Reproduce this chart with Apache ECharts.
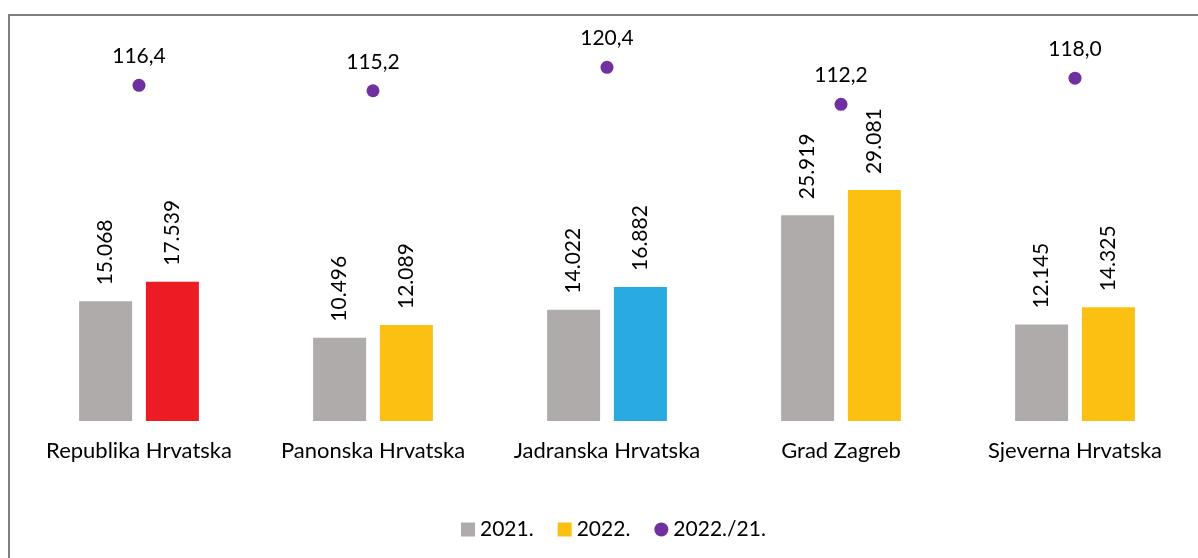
<!DOCTYPE html>
<html lang="hr">
<head>
    <meta charset="UTF-8">
    <title>Regije 2021./2022.</title>
    <style>
        html, body { margin: 0; padding: 0; background: #fff; }
        #frame {
            position: absolute; left: 8px; top: 14px;
            width: 1300px; height: 700px;
            border-left: 2px solid #7f7f7f; border-top: 2px solid #7f7f7f;
        }
        #chart { position: absolute; left: 0; top: 0; width: 1198px; height: 558px; }
    </style>
    <script src="https://cdn.jsdelivr.net/npm/echarts@6/dist/echarts.min.js"></script>
</head>
<body>
<div id="frame"></div>
<div id="chart"></div>
<script>
    // podaci
    var regije = ['Republika Hrvatska', 'Panonska Hrvatska', 'Jadranska Hrvatska', 'Grad Zagreb', 'Sjeverna Hrvatska'];
    var god2021 = [15068, 10496, 14022, 25919, 12145];
    var god2022 = [17539, 12089, 16882, 29081, 14325];
    var indeks = [116.4, 115.2, 120.4, 112.2, 118.0];
    var boje2022 = ['#ED1C24', '#FCC013', '#29ABE2', '#FCC013', '#FCC013'];

    var font = 'Lato';
    function tisuce(v) {
        return String(v).replace(/\B(?=(\d{3})+(?!\d))/g, '.');
    }

    var chart = echarts.init(document.getElementById('chart'));
    var option = {
        animation: false,
        textStyle: { fontFamily: font },
        grid: { left: 22, right: 6, top: 24, bottom: 137 },
        legend: {
            bottom: 13,
            left: 456,
            itemWidth: 14,
            itemHeight: 14,
            itemGap: 24,
            textStyle: { fontSize: 21, color: '#000', fontFamily: font },
            data: [
                { name: '2021.', icon: 'rect' },
                { name: '2022.', icon: 'rect' },
                { name: '2022./21.', icon: 'circle' }
            ]
        },
        xAxis: {
            type: 'category',
            data: regije,
            axisLine: { show: false },
            axisTick: { show: false },
            axisLabel: { margin: 19, fontSize: 22, color: '#000', fontFamily: font, interval: 0 }
        },
        yAxis: [
            { type: 'value', min: 0, max: 50000, show: false, splitLine: { show: false } },
            { type: 'value', min: 42, max: 130, show: false, splitLine: { show: false } }
        ],
        series: [
            {
                name: '2021.',
                type: 'bar',
                data: god2021,
                barWidth: 53,
                barGap: '26%',
                itemStyle: { color: '#AFABAB' },
                label: {
                    show: true, position: 'top', rotate: 90, align: 'left', verticalAlign: 'middle',
                    distance: 16, fontSize: 21, color: '#000', fontFamily: font,
                    formatter: function (p) { return tisuce(p.value); }
                }
            },
            {
                name: '2022.',
                type: 'bar',
                barWidth: 53,
                itemStyle: { color: '#FCC013' },
                data: god2022.map(function (v, i) {
                    return { value: v, itemStyle: { color: boje2022[i] } };
                }),
                label: {
                    show: true, position: 'top', rotate: 90, align: 'left', verticalAlign: 'middle',
                    distance: 16, fontSize: 21, color: '#000', fontFamily: font,
                    formatter: function (p) { return tisuce(p.value); }
                }
            },
            {
                name: '2022./21.',
                type: 'scatter',
                yAxisIndex: 1,
                data: indeks,
                symbolSize: 13,
                clip: false,
                itemStyle: { color: '#7030A0', opacity: 1 },
                label: {
                    show: true, position: 'top', distance: 12, fontSize: 21, color: '#000', fontFamily: font,
                    formatter: function (p) { return p.value.toFixed(1).replace('.', ','); }
                }
            }
        ]
    };
    chart.setOption(option);
</script>
</body>
</html>
